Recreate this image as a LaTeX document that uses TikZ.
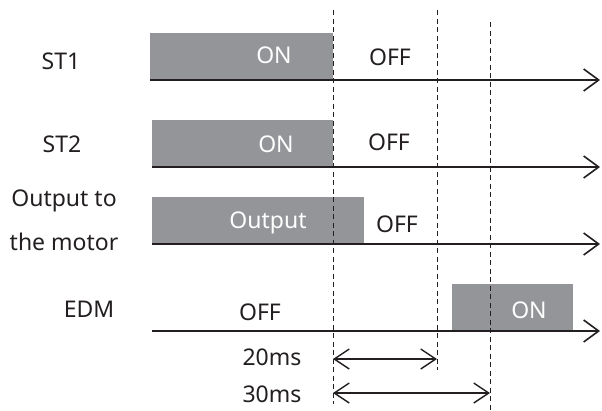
\documentclass[tikz,border=0pt]{standalone}
\usepackage{fontspec}
\setmainfont{Noto Sans}
\usetikzlibrary{arrows.meta}
\definecolor{fillgray}{HTML}{939598}
\definecolor{ink}{HTML}{231F20}
\begin{document}
\begin{tikzpicture}[x=1pt,y=-1pt,
  lbl/.style={font=\fontsize{23}{26}\selectfont, text=ink, inner sep=0pt, anchor=base},
  wlbl/.style={lbl, text=white},
  sig/.style={fill=fillgray, draw=none, inner sep=0pt, anchor=south west},
  axis/.style={draw=ink, line width=1.6pt, -{Straight Barb[length=15pt,width=22pt,line width=1.6pt]}},
  guide/.style={draw=ink, line width=0.9pt, dash pattern=on 5pt off 3.5pt},
  span/.style={draw=ink, line width=1.4pt, {Straight Barb[length=15pt,width=20pt,line width=1.4pt]}-{Straight Barb[length=15pt,width=20pt,line width=1.4pt]}}
]
\useasboundingbox (0,0) rectangle (602,410);

% signal boxes
\node[sig, minimum width=183pt, minimum height=47pt] (b1) at (150,80) {};
\node[sig, minimum width=181pt, minimum height=47pt] (b2) at (152,167) {};
\node[sig, minimum width=212pt, minimum height=47pt] (b3) at (152,244) {};
\node[sig, minimum width=121pt, minimum height=47pt] (b4) at (452,331) {};

% guide lines
\coordinate (g1t) at (333,10);  \coordinate (g1b) at (333,404);
\coordinate (g2t) at (437,10);  \coordinate (g2b) at (437,370);
\coordinate (g3t) at (490,22);  \coordinate (g3b) at (490,410);
\draw[guide] (g1t) -- (g1b);
\draw[guide] (g2t) -- (g2b);
\draw[guide] (g3t) -- (g3b);

% axes
\coordinate (a1s) at (150,80);  \coordinate (a1e) at (600,80);
\coordinate (a2s) at (152,167); \coordinate (a2e) at (600,167);
\coordinate (a3s) at (152,244); \coordinate (a3e) at (600,244);
\coordinate (a4s) at (152,331); \coordinate (a4e) at (600,331);
\draw[axis] (a1s) -- (a1e);
\draw[axis] (a2s) -- (a2e);
\draw[axis] (a3s) -- (a3e);
\draw[axis] (a4s) -- (a4e);

% spans
\coordinate (s1a) at (333,359); \coordinate (s1b) at (437,359);
\coordinate (s2a) at (333,393); \coordinate (s2b) at (490,393);
\draw[span] (s1a) -- (s1b);
\draw[span] (s2a) -- (s2b);

% labels
\node[lbl] (l1) at (61,69) {ST1};
\node[lbl] (l2) at (62,152) {ST2};
\node[lbl] (l3a) at (64,206) {Output to};
\node[lbl] (l3b) at (64,250) {the motor};
\node[lbl] (l4) at (89,317) {EDM};

\node[wlbl] (on1) at (274,63) {ON};
\node[lbl] (off1) at (390,65) {OFF};
\node[wlbl] (on2) at (276,152) {ON};
\node[lbl] (off2) at (389,150) {OFF};
\node[wlbl] (out3) at (268,228) {Output};
\node[lbl] (off3) at (397,232) {OFF};
\node[lbl] (off4) at (260,320) {OFF};
\node[wlbl] (on4) at (529,318) {ON};

\node[lbl] (t20) at (272,365) {20ms};
\node[lbl] (t30) at (272,402) {30ms};
\end{tikzpicture}
\end{document}
